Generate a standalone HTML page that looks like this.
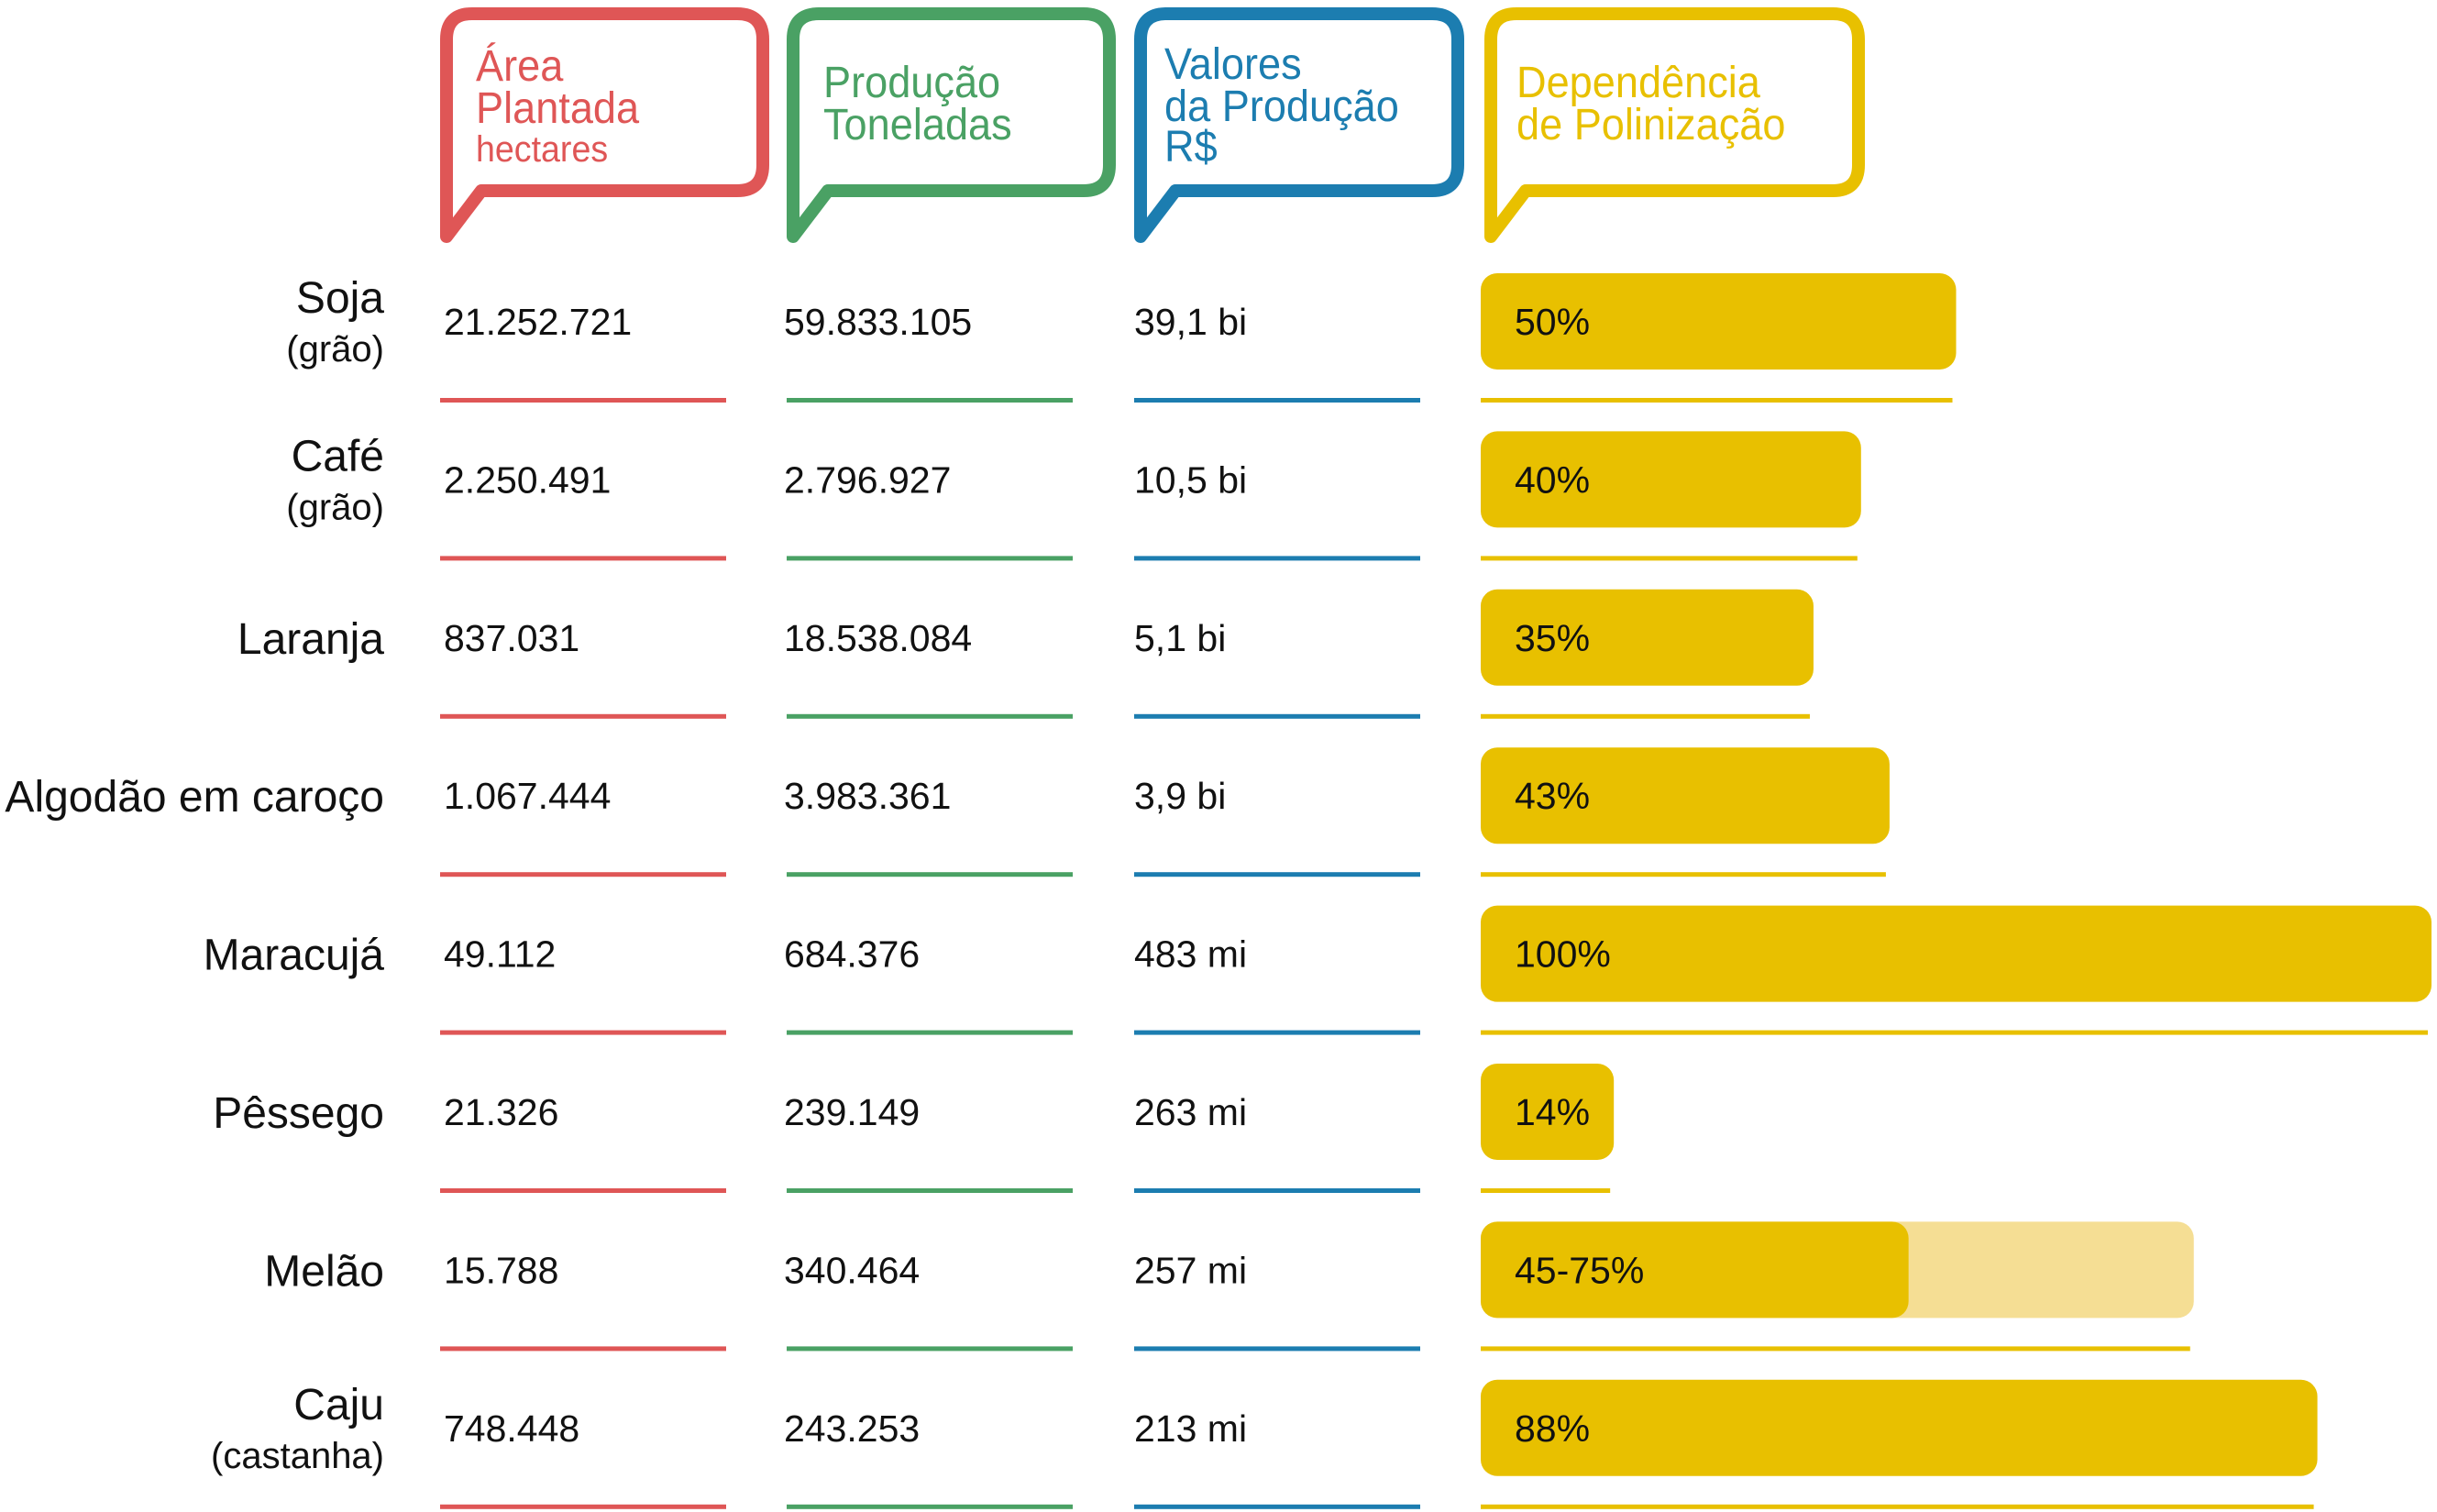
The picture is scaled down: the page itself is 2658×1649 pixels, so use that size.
<!DOCTYPE html>
<html><head><meta charset="utf-8"><style>
html,body{margin:0;padding:0;background:#fff;}
svg{display:block;font-family:"Liberation Sans",Arial,sans-serif;}
</style></head><body>
<svg id="chart" width="2658" height="1649" viewBox="0 0 2658 1649" xmlns="http://www.w3.org/2000/svg"></svg>
<script>
const crops = ["Soja|(grão)","Café|(grão)","Laranja","Algodão em caroço","Maracujá","Pêssego","Melão","Caju|(castanha)"];
const area = ["21.252.721","2.250.491","837.031","1.067.444","49.112","21.326","15.788","748.448"];
const production = ["59.833.105","2.796.927","18.538.084","3.983.361","684.376","239.149","340.464","243.253"];
const values = ["39,1 bi","10,5 bi","5,1 bi","3,9 bi","483 mi","263 mi","257 mi","213 mi"];
const depLow = [50,40,35,43,100,14,45,88];
const depHigh = [50,40,35,43,100,14,75,88];
const depLabels = ["50%","40%","35%","43%","100%","14%","45-75%","88%"];

const NS="http://www.w3.org/2000/svg";
const svg=document.getElementById('chart');
function mk(tag,attrs,parent){const e=document.createElementNS(NS,tag);for(const k in attrs)e.setAttribute(k,attrs[k]);(parent||svg).appendChild(e);return e;}

const RED="#DF5656",GREEN="#4AA164",BLUE="#1C7DB0",YEL="#E8C000",LYEL="#F5DE94";
const headers=[
 {x0:480,x1:839,c:RED,name:"area-header",lines:[["Área",48,88],["Plantada",48,134],["hectares",40,176]],tx:519},
 {x0:858,x1:1217,c:GREEN,name:"production-header",lines:[["Produção",48,106],["Toneladas",48,152]],tx:898},
 {x0:1237,x1:1597,c:BLUE,name:"value-header",lines:[["Valores",48,86],["da Produção",48,132],["R$",48,176]],tx:1270},
 {x0:1619,x1:2034,c:YEL,name:"dependency-header",lines:[["Dependência",48,106],["de Polinização",48,152]],tx:1654}
];
headers.forEach(h=>{
  const g=mk('g',{});
  
  
  const t=15,b=208,r=28,x0=h.x0+7,x1=h.x1-7;
  const p=mk('path',{d:`M${x0+38},${b} L${x0},${258} L${x0},${t+r} Q${x0},${t} ${x0+r},${t} L${x1-r},${t} Q${x1},${t} ${x1},${t+r} L${x1},${b-r} Q${x1},${b} ${x1-r},${b} Z`,fill:"none",stroke:h.c,"stroke-width":14,"stroke-linejoin":"round"},g);
  
  
  h.lines.forEach(l=>{
    const tx=mk('text',{x:0,y:0,"font-size":l[1],fill:h.c,transform:`translate(${h.tx},${l[2]}) scale(0.94,1)`},g);
    
    
    tx.textContent=l[0];
  });
});

const rowY=i=>351+i*172.4;
const pctX=v=>1615+v*10.37;
crops.forEach((c,i)=>{
  const cy=rowY(i);
  const parts=c.split('|');
  const lab=mk('text',{x:419,y:parts.length>1?cy-10:cy+17,"font-size":48,fill:"#111","text-anchor":"end"});
  
  
  lab.textContent=parts[0];
  if(parts.length>1){
    const s=mk('text',{x:419,y:cy+43,"font-size":40,fill:"#111","text-anchor":"end"});
    
    
    s.textContent=parts[1];
  }
  [[area,484,RED,480],[production,855,GREEN,858],[values,1237,BLUE,1237]].forEach(([arr,x,col,lx])=>{
    const t=mk('text',{x:x,y:cy+14,"font-size":41,fill:"#111"});
    
    
    t.textContent=arr[i];
    const ln=mk('rect',{x:lx,y:cy+83,width:312,height:5,fill:col});
    
    
  });
  if(depHigh[i]>depLow[i]){
    const hb=mk('rect',{x:1615,y:cy-53,width:pctX(depHigh[i])-1615,height:105,rx:18,fill:LYEL});
    
    
  }
  const bar=mk('rect',{x:1615,y:cy-53,width:pctX(depLow[i])-1615,height:105,rx:18,fill:YEL});
  
  
  const bt=mk('text',{x:1652,y:cy+14,"font-size":41,fill:"#111"});
  
  
  bt.textContent=depLabels[i];
  const yl=mk('rect',{x:1615,y:cy+83,width:pctX(depHigh[i])-1615-4,height:5,fill:YEL});
  
  
});
</script>
</body></html>
